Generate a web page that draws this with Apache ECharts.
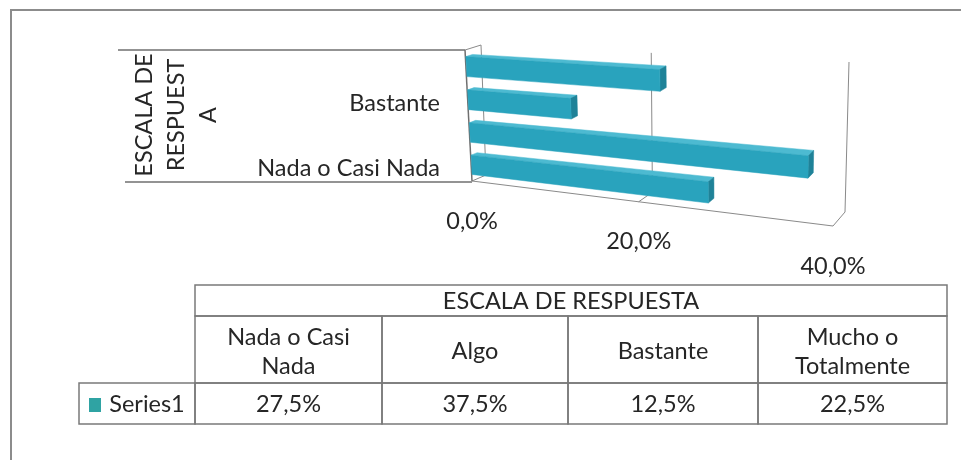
<!DOCTYPE html>
<html>
<head>
<meta charset="utf-8">
<script src="https://cdn.jsdelivr.net/npm/echarts@6/dist/echarts.min.js"></script>
<style>html,body{margin:0;padding:0;background:#fff;}#c{width:961px;height:460px;}</style>
</head>
<body>
<div id="c"></div>
<script>
// ---- data ----
const categories = ['Nada o Casi Nada', 'Algo', 'Bastante', 'Mucho o Totalmente'];
const tableCategoryLabels = ['Nada o Casi\nNada', 'Algo', 'Bastante', 'Mucho o\nTotalmente'];
const values = [27.5, 37.5, 12.5, 22.5];
const xTicks = [0, 20, 40];
const seriesName = 'Series1';
const axisTitle = 'ESCALA DE\nRESPUEST\nA';
const tableTitle = 'ESCALA DE RESPUESTA';

// ---- helpers ----
const FONT = 'Lato, "Open Sans", sans-serif';
const FS = 23.5;
const TXT = '#262626';
function fmt(v) { return v.toFixed(1).replace('.', ',') + '%'; }

// projective map unit square -> quad (TL, TR, BR, BL)
function makeH(q) {
  const [x0, y0] = q[0], [x1, y1] = q[1], [x2, y2] = q[2], [x3, y3] = q[3];
  const dx1 = x1 - x2, dx2 = x3 - x2, dx3 = x0 - x1 + x2 - x3;
  const dy1 = y1 - y2, dy2 = y3 - y2, dy3 = y0 - y1 + y2 - y3;
  const den = dx1 * dy2 - dx2 * dy1;
  const g = (dx3 * dy2 - dx2 * dy3) / den, h = (dx1 * dy3 - dx3 * dy1) / den;
  const a = x1 - x0 + g * x1, b = x3 - x0 + h * x3, c = x0;
  const d = y1 - y0 + g * y1, e = y3 - y0 + h * y3, f = y0;
  return (u, v) => { const w = g * u + h * v + 1; return [(a * u + b * v + c) / w, (d * u + e * v + f) / w]; };
}
// layout of the 3D box (back wall plane and front plane)
const Hb = makeH([[481, 45], [849, 62], [845, 212], [486, 175]]);
const Hf = makeH([[465, 50], [836, 74], [833, 226], [472, 181]]);
function P(u, v, t) { const b = Hb(u, v), f = Hf(u, v); return [b[0] + (f[0] - b[0]) * t, b[1] + (f[1] - b[1]) * t]; }

const GRID = { left: 466, top: 55, width: 370, height: 130 };

function renderGrid(params, api) {
  const cs = params.coordSys;
  const p = api.coord([api.value(0), 0]);
  const u = (p[0] - cs.x) / cs.width;
  const bt = Hb(u, 0), bb = Hb(u, 1), fb = Hf(u, 1);
  const lineStyle = { stroke: '#8a8a8a', lineWidth: 1 };
  const children = [
    { type: 'line', shape: { x1: bt[0], y1: bt[1], x2: bb[0], y2: bb[1] }, style: lineStyle },
    { type: 'line', shape: { x1: bb[0], y1: bb[1], x2: fb[0], y2: fb[1] }, style: lineStyle },
    { type: 'text', x: fb[0], y: fb[1] + 40, style: { text: fmt(api.value(0)), fill: TXT, fontSize: FS, fontFamily: FONT, align: 'center', verticalAlign: 'middle' } }
  ];
  if (params.dataIndex === 0) {
    const f00 = Hf(0, 0), f01 = Hf(0, 1), f11 = Hf(1, 1), b00 = Hb(0, 0);
    const frame = { stroke: '#6f6f6f', lineWidth: 1.5 };
    children.push(
      { type: 'line', shape: { x1: f01[0], y1: f01[1], x2: f11[0], y2: f11[1] }, style: lineStyle },
      { type: 'line', shape: { x1: f00[0], y1: f00[1], x2: f01[0], y2: f01[1] }, style: frame },
      { type: 'line', shape: { x1: f00[0], y1: f00[1], x2: b00[0], y2: b00[1] }, style: lineStyle },
      { type: 'line', shape: { x1: 118, y1: f00[1], x2: f00[0], y2: f00[1] }, style: frame },
      { type: 'line', shape: { x1: 125, y1: f01[1] + 1, x2: f01[0], y2: f01[1] + 1 }, style: frame }
    );
  }
  return { type: 'group', children };
}

function renderBar(params, api) {
  const cs = params.coordSys;
  const cat = api.value(1);
  const s = api.coord([0, cat]);
  const e = api.coord([api.value(0), cat]);
  const bw = api.size([0, 1])[1] * 0.6;
  const u0 = (s[0] - cs.x) / cs.width, u1 = (e[0] - cs.x) / cs.width;
  const vc = (s[1] - cs.y) / cs.height;
  const v0 = vc - bw / 2 / cs.height, v1 = vc + bw / 2 / cs.height;
  const tb = 0.55, tf = 0.97;
  const poly = (pts, fill) => ({ type: 'polygon', shape: { points: pts }, style: { fill: fill, stroke: fill, lineWidth: 0.5 } });
  return {
    type: 'group', children: [
      poly([P(u0, v0, tb), P(u1, v0, tb), P(u1, v0, tf), P(u0, v0, tf)], '#4dbad1'),
      poly([P(u1, v0, tf), P(u1, v0, tb), P(u1, v1, tb), P(u1, v1, tf)], '#1f8298'),
      poly([P(u0, v0, tf), P(u1, v0, tf), P(u1, v1, tf), P(u0, v1, tf)], '#29a3bd')
    ]
  };
}

// ---- data table (graphic) ----
const TX = [195, 382, 568, 758, 947];
const TY = [285, 316, 383, 424];
const tableStroke = { stroke: '#7a7a7a', lineWidth: 1.5, fill: 'none' };
const graphics = [
  { type: 'line', shape: { x1: 10, y1: 10, x2: 961, y2: 10 }, style: { stroke: '#8c8c8c', lineWidth: 2 } },
  { type: 'line', shape: { x1: 11, y1: 10, x2: 11, y2: 460 }, style: { stroke: '#8c8c8c', lineWidth: 2 } },
  { type: 'text', x: 176, y: 115, rotation: Math.PI / 2, style: { text: axisTitle, fill: TXT, fontSize: FS, fontFamily: FONT, align: 'center', verticalAlign: 'middle', lineHeight: 32 } },
  { type: 'rect', shape: { x: TX[0], y: TY[0], width: TX[4] - TX[0], height: TY[1] - TY[0] }, style: tableStroke },
  { type: 'text', x: (TX[0] + TX[4]) / 2, y: (TY[0] + TY[1]) / 2 + 1, style: { text: tableTitle, fill: TXT, fontSize: FS, fontFamily: FONT, align: 'center', verticalAlign: 'middle' } },
  { type: 'rect', shape: { x: 79, y: TY[2], width: TX[0] - 79, height: TY[3] - TY[2] }, style: tableStroke },
  { type: 'rect', shape: { x: 89, y: 398, width: 12, height: 14 }, style: { fill: '#2fa3a3' } },
  { type: 'text', x: 147, y: (TY[2] + TY[3]) / 2 + 1, style: { text: seriesName, fill: TXT, fontSize: FS, fontFamily: FONT, align: 'center', verticalAlign: 'middle' } }
];
tableCategoryLabels.forEach((lab, i) => {
  const cx = (TX[i] + TX[i + 1]) / 2;
  graphics.push(
    { type: 'rect', shape: { x: TX[i], y: TY[1], width: TX[i + 1] - TX[i], height: TY[2] - TY[1] }, style: tableStroke },
    { type: 'rect', shape: { x: TX[i], y: TY[2], width: TX[i + 1] - TX[i], height: TY[3] - TY[2] }, style: tableStroke },
    { type: 'text', x: cx, y: (TY[1] + TY[2]) / 2 + 2, style: { text: lab, fill: TXT, fontSize: FS, fontFamily: FONT, align: 'center', verticalAlign: 'middle', lineHeight: 29 } },
    { type: 'text', x: cx, y: (TY[2] + TY[3]) / 2 + 1, style: { text: fmt(values[i]), fill: TXT, fontSize: FS, fontFamily: FONT, align: 'center', verticalAlign: 'middle' } }
  );
});

const chart = echarts.init(document.getElementById('c'), null, { renderer: 'canvas' });
chart.setOption({
  animation: false,
  backgroundColor: '#ffffff',
  grid: GRID,
  xAxis: { type: 'value', min: 0, max: 40, interval: 20, show: false },
  yAxis: {
    type: 'category', data: categories,
    axisLine: { show: false }, axisTick: { show: false }, splitLine: { show: false },
    axisLabel: { interval: 1, margin: 26, fontSize: FS, color: TXT, fontFamily: FONT }
  },
  series: [
    { type: 'custom', name: 'grid', renderItem: renderGrid, data: xTicks.map(t => [t, 0]), encode: { x: 0, y: 1 }, z: 1, silent: true },
    { type: 'custom', name: seriesName, renderItem: renderBar, data: values.map((v, i) => [v, i]), encode: { x: 0, y: 1 }, z: 2 }
  ],
  graphic: graphics
});
</script>
</body>
</html>
